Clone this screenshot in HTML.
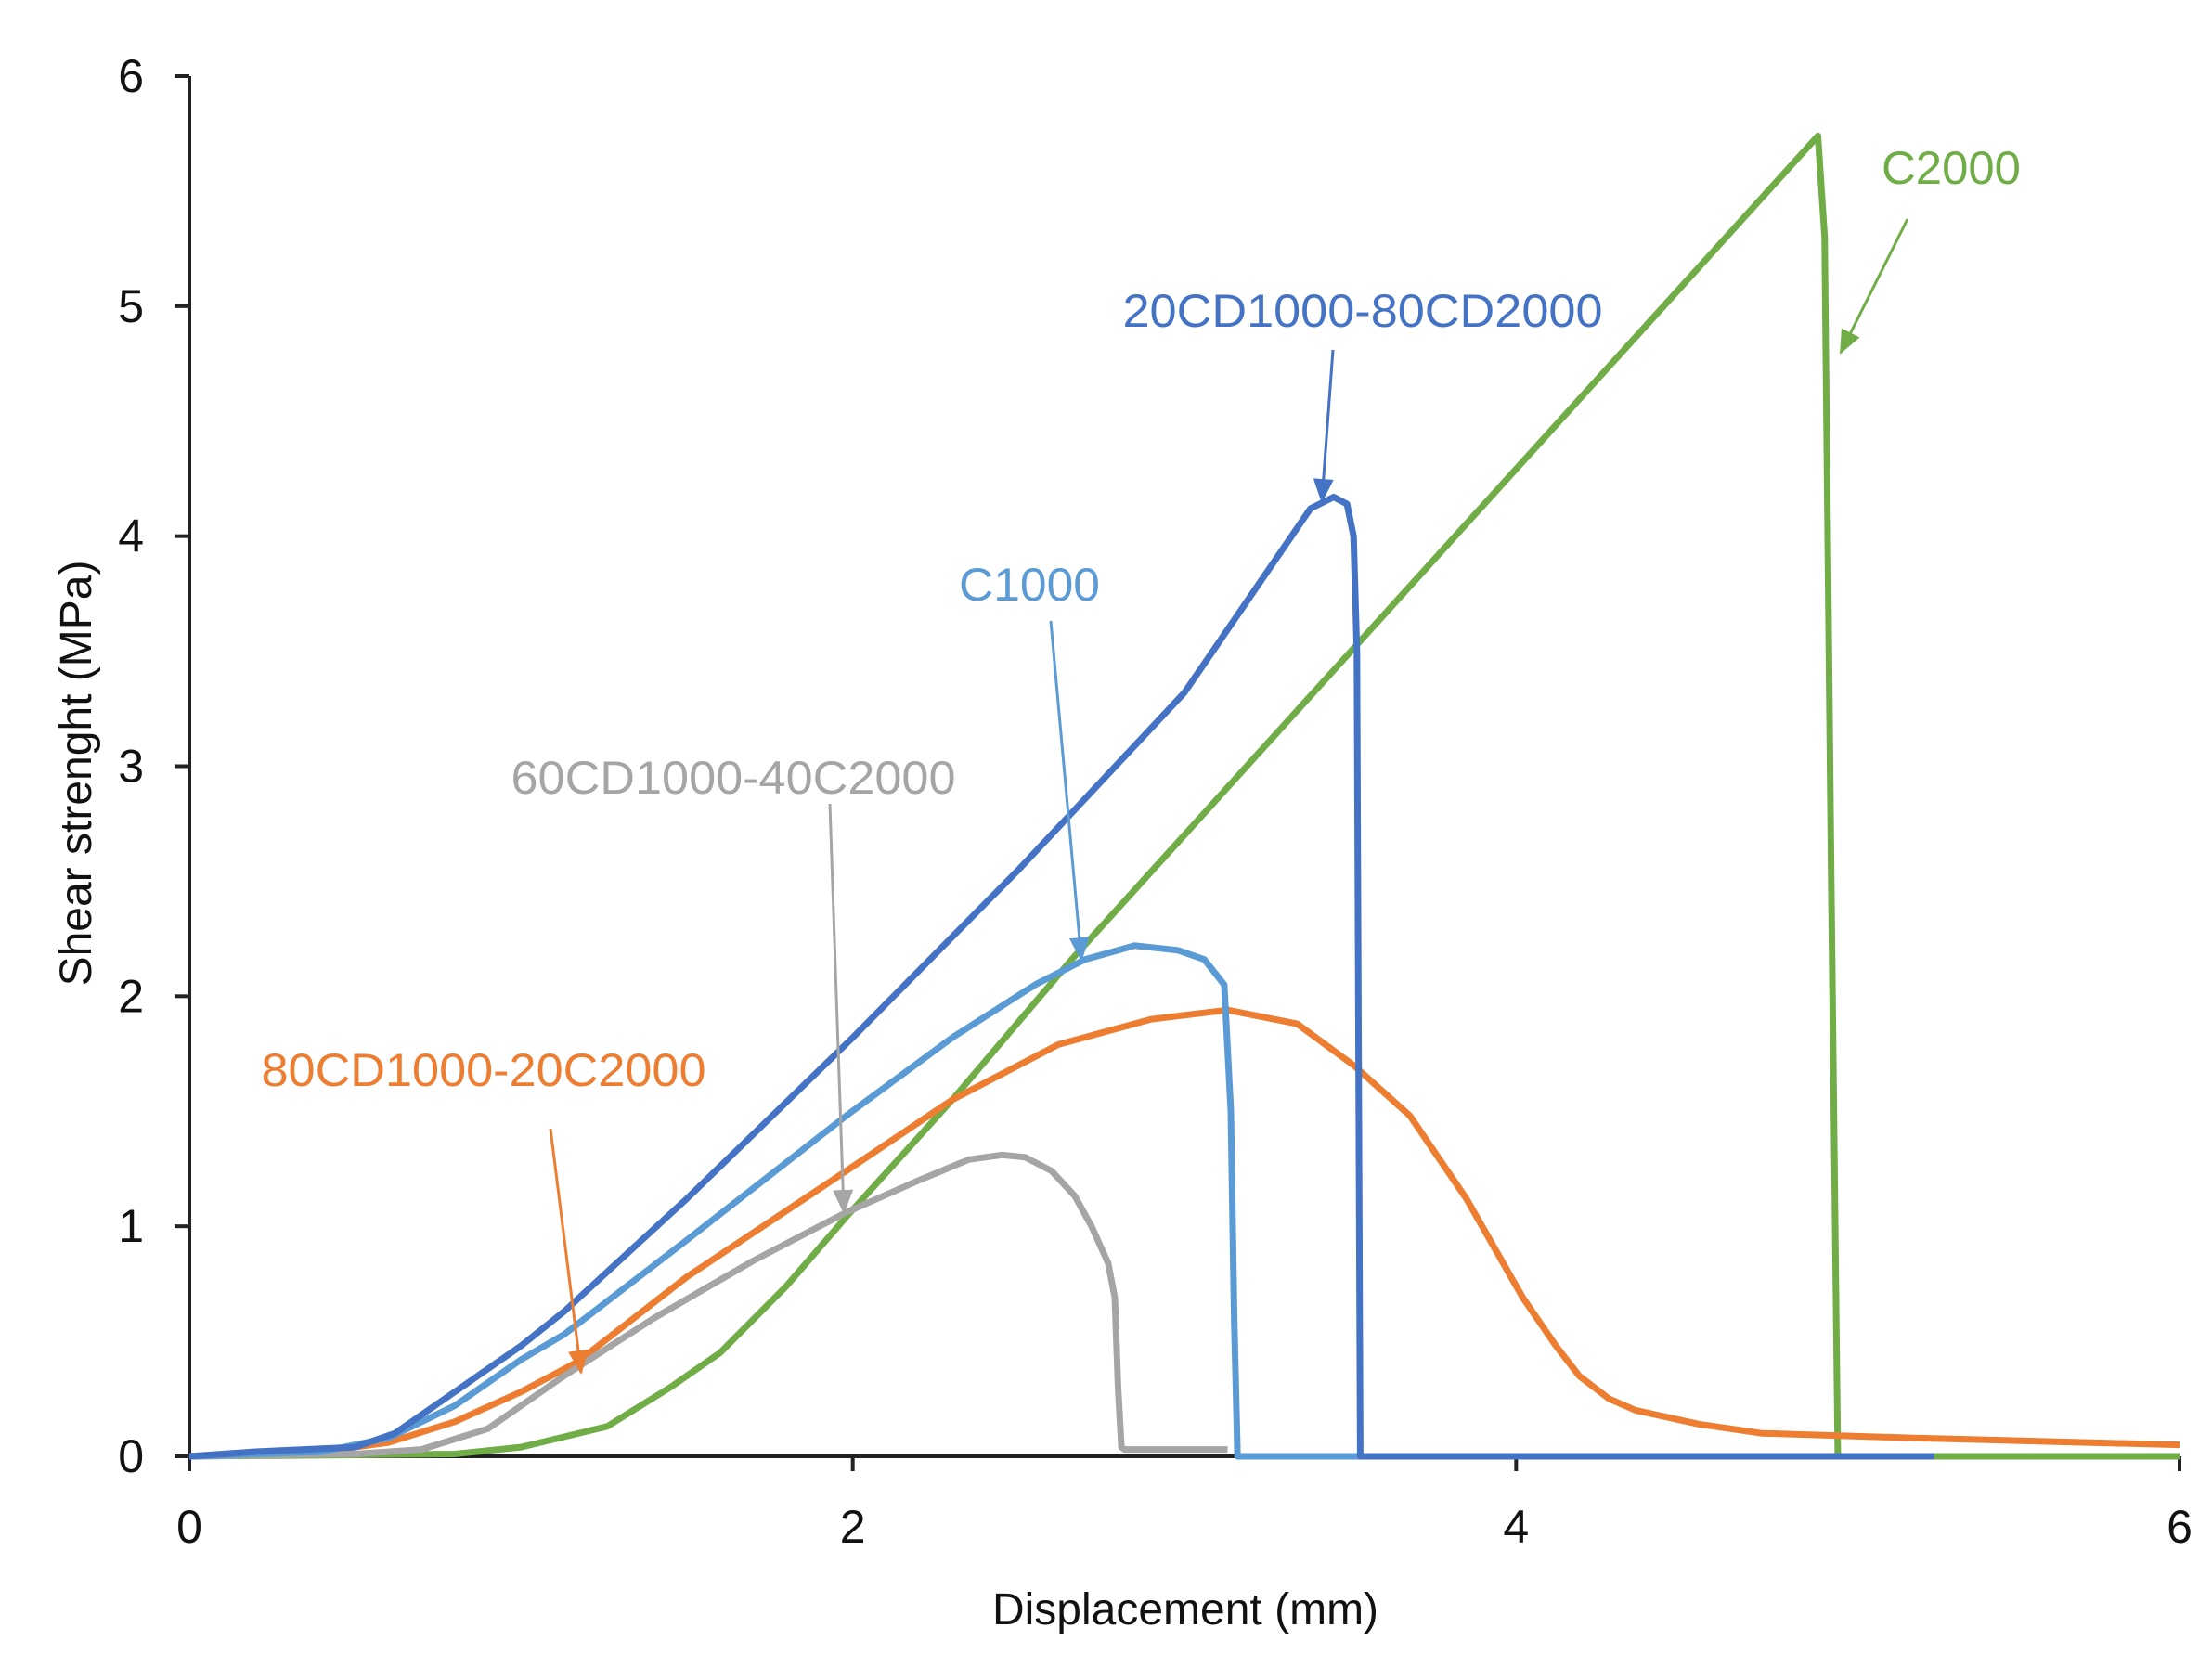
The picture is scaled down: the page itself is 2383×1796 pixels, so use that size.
<!DOCTYPE html>
<html><head><meta charset="utf-8"><style>
html,body{margin:0;padding:0;background:#fff;}
svg{display:block;font-family:"Liberation Sans",Arial,sans-serif;}
</style></head><body>
<svg id="chart" width="2383" height="1796" viewBox="0 0 2383 1796" xmlns="http://www.w3.org/2000/svg">
<defs>
<marker id="ah-green" markerUnits="userSpaceOnUse" markerWidth="26" markerHeight="22" refX="24" refY="11" orient="auto"><path d="M0,0 L26,11 L0,22 z" fill="#70AD47"/></marker>
<marker id="ah-dblue" markerUnits="userSpaceOnUse" markerWidth="26" markerHeight="22" refX="24" refY="11" orient="auto"><path d="M0,0 L26,11 L0,22 z" fill="#4472C4"/></marker>
<marker id="ah-lblue" markerUnits="userSpaceOnUse" markerWidth="26" markerHeight="22" refX="24" refY="11" orient="auto"><path d="M0,0 L26,11 L0,22 z" fill="#5B9BD5"/></marker>
<marker id="ah-gray" markerUnits="userSpaceOnUse" markerWidth="26" markerHeight="22" refX="24" refY="11" orient="auto"><path d="M0,0 L26,11 L0,22 z" fill="#A5A5A5"/></marker>
<marker id="ah-orange" markerUnits="userSpaceOnUse" markerWidth="26" markerHeight="22" refX="24" refY="11" orient="auto"><path d="M0,0 L26,11 L0,22 z" fill="#ED7D31"/></marker>
</defs>
<g id="axes"></g>
<g id="series"></g>
<g id="annotations"></g>
</svg>
<script>
const xTicks = [0, 2, 4, 6];
const yTicks = [0, 1, 2, 3, 4, 5, 6];
const seriesNames = ["60CD1000-40C2000", "C1000", "80CD1000-20C2000", "20CD1000-80CD2000", "C2000"];
const grayX = [0,0.5,0.7,0.9,1.13,1.4,1.7,1.98,2.2,2.35,2.45,2.52,2.6,2.67,2.72,2.77,2.79,2.80,2.81,2.82,3.13];
const grayY = [0,0.01,0.03,0.12,0.35,0.6,0.85,1.06,1.2,1.29,1.31,1.30,1.24,1.13,1.0,0.84,0.69,0.3,0.04,0.03,0.03];
const lblueX = [0,0.4,0.6,0.8,1.0,1.13,1.5,1.98,2.3,2.55,2.7,2.85,2.98,3.06,3.12,3.14,3.15,3.16,3.55];
const lblueY = [0,0.02,0.08,0.22,0.42,0.53,0.94,1.48,1.82,2.05,2.16,2.22,2.2,2.16,2.05,1.5,0.6,0,0];
const orangeX = [0,0.4,0.6,0.8,1.0,1.17,1.5,1.98,2.3,2.62,2.9,3.13,3.34,3.51,3.68,3.85,4.02,4.12,4.19,4.28,4.36,4.55,4.74,5.2,5.72,6.0];
const orangeY = [0,0.02,0.06,0.15,0.28,0.41,0.78,1.24,1.55,1.79,1.9,1.94,1.88,1.7,1.48,1.12,0.69,0.48,0.35,0.25,0.2,0.14,0.1,0.08,0.06,0.05];
const dblueX = [0,0.2,0.5,0.62,0.8,1.0,1.13,1.5,2.0,2.5,3.0,3.38,3.45,3.49,3.51,3.52,3.53,5.26];
const dblueY = [0,0.02,0.04,0.1,0.28,0.48,0.63,1.12,1.82,2.55,3.32,4.12,4.17,4.14,4.0,3.5,0,0];
const greenX = [0,0.8,1.0,1.26,1.45,1.6,1.8,1.98,2.3,2.66,4.91,4.93,4.95,4.97,6.0];
const greenY = [0,0.01,0.04,0.13,0.3,0.45,0.74,1.04,1.55,2.16,5.74,5.3,2.5,0,0];

const X0=204, X1=2348, Y0=1569, Y1=82;
const sx = v => X0 + (v - 0) / 6 * (X1 - X0);
const sy = v => Y0 - (v - 0) / 6 * (Y0 - Y1);
const NS="http://www.w3.org/2000/svg";
function mk(tag, attrs, parent){const e=document.createElementNS(NS,tag);for(const k in attrs)e.setAttribute(k,attrs[k]);parent.appendChild(e);return e;}

const axes=document.getElementById('axes');
let el=mk('line',{x1:X0,y1:Y1,x2:X0,y2:Y0,stroke:'#222','stroke-width':4},axes);


el=mk('line',{x1:X0,y1:Y0,x2:X1,y2:Y0,stroke:'#222','stroke-width':4},axes);


yTicks.forEach(t=>{
  const tk=mk('line',{x1:X0-16,y1:sy(t),x2:X0,y2:sy(t),stroke:'#222','stroke-width':4},axes);
  
  
  const lb=mk('text',{x:155,y:sy(t)+17,'text-anchor':'end','font-size':50,fill:'#111'},axes);
  lb.textContent=t;
  
  
});
xTicks.forEach(t=>{
  const tk=mk('line',{x1:sx(t),y1:Y0,x2:sx(t),y2:Y0+16,stroke:'#222','stroke-width':4},axes);
  
  
  const lb=mk('text',{x:sx(t),y:1662,'text-anchor':'middle','font-size':50,fill:'#111'},axes);
  lb.textContent=t;
  
  
});
el=mk('text',{x:1277,y:1750,'text-anchor':'middle','font-size':48,fill:'#111'},axes);
el.textContent='Displacement (mm)';


el=mk('text',{x:0,y:0,'text-anchor':'middle','font-size':48,fill:'#111',transform:'translate(98,833) rotate(-90)'},axes);
el.textContent='Shear strenght (MPa)';



const ser=document.getElementById('series');
function line(xs,ys,color,name){
  const d=xs.map((x,i)=>(i?'L':'M')+sx(x).toFixed(1)+','+sy(ys[i]).toFixed(1)).join(' ');
  const p=mk('path',{d:d,fill:'none',stroke:color,'stroke-width':7,'stroke-linejoin':'round'},ser);
  
  
}
line(greenX,greenY,'#70AD47','series-c2000');
line(orangeX,orangeY,'#ED7D31','series-80cd1000-20c2000');
line(grayX,grayY,'#A5A5A5','series-60cd1000-40c2000');
line(lblueX,lblueY,'#5B9BD5','series-c1000');
line(dblueX,dblueY,'#4472C4','series-20cd1000-80cd2000');

const ann=document.getElementById('annotations');
const anns=[
  {t:seriesNames[4],x:2102,y:198,w:150,c:'#70AD47',m:'ah-green',a:[2055,236,1983,380],n:'c2000'},
  {t:seriesNames[3],x:1468,y:352,w:517,c:'#4472C4',m:'ah-dblue',a:[1436,377,1424,540],n:'20cd1000-80cd2000'},
  {t:seriesNames[1],x:1109,y:647,w:152,c:'#5B9BD5',m:'ah-lblue',a:[1132,669,1165,1034],n:'c1000'},
  {t:seriesNames[0],x:790,y:855,w:479,c:'#A5A5A5',m:'ah-gray',a:[894,866,909,1306],n:'60cd1000-40c2000'},
  {t:seriesNames[2],x:521,y:1170,w:479,c:'#ED7D31',m:'ah-orange',a:[593,1216,626,1479],n:'80cd1000-20c2000'}
];
anns.forEach(o=>{
  const tx=mk('text',{x:o.x,y:o.y,'text-anchor':'middle','font-size':50,fill:o.c,textLength:o.w,lengthAdjust:'spacingAndGlyphs'},ann);
  tx.textContent=o.t;
  
  
  const ar=mk('line',{x1:o.a[0],y1:o.a[1],x2:o.a[2],y2:o.a[3],stroke:o.c,'stroke-width':3,'marker-end':'url(#'+o.m+')'},ann);
  
  
});
</script>
</body></html>
